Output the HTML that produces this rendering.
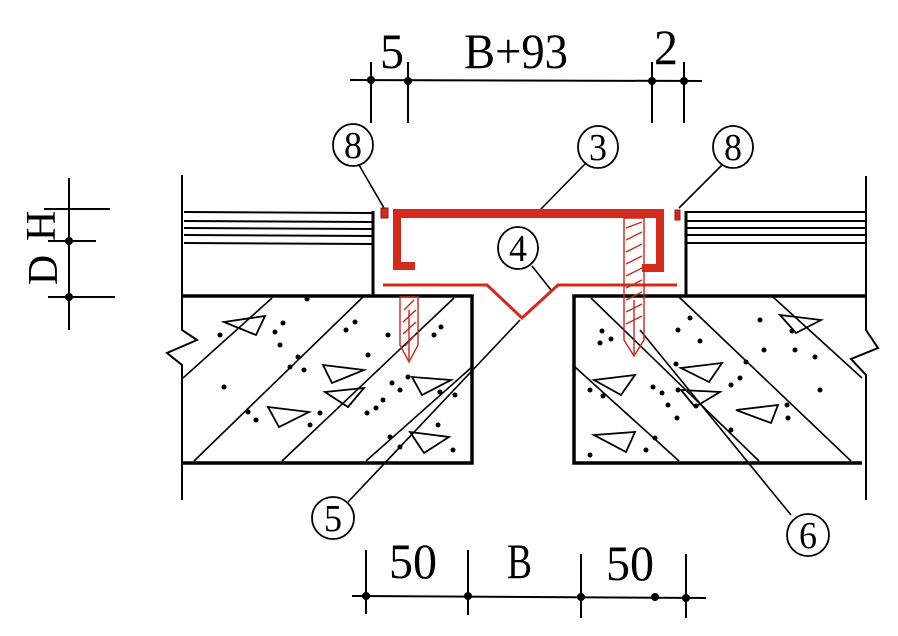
<!DOCTYPE html>
<html><head><meta charset="utf-8"><style>html,body{margin:0;padding:0;background:#fff}svg{display:block}</style></head>
<body>
<svg width="898" height="636" viewBox="0 0 898 636" xmlns="http://www.w3.org/2000/svg" font-family="Liberation Serif, serif">
<rect width="898" height="636" fill="#fff"/>
<g stroke="#000" stroke-width="2" fill="none">
<line x1="350" y1="80" x2="702" y2="81"/>
<line x1="371" y1="62" x2="371" y2="123"/>
<line x1="408" y1="62" x2="408" y2="123"/>
<line x1="652" y1="62" x2="652" y2="123"/>
<line x1="684" y1="62" x2="684" y2="123"/>
<line x1="69" y1="178" x2="69" y2="330"/>
<line x1="44" y1="209" x2="110" y2="209"/>
<line x1="48" y1="241" x2="96" y2="241"/>
<line x1="48" y1="297" x2="115" y2="297"/>
<line x1="352" y1="596" x2="706" y2="598"/>
<line x1="366" y1="550" x2="366" y2="614"/>
<line x1="468" y1="550" x2="468" y2="615"/>
<line x1="581" y1="554" x2="581" y2="618"/>
<line x1="686" y1="554" x2="686" y2="618"/>
<polyline points="182,175 182,330 197,340 167,353 182,365 182,500"/>
<polyline points="866,176 866,330 878,348 851,359 866,375 866,500"/>
<line x1="184" y1="212" x2="372" y2="213"/>
<line x1="184" y1="221" x2="372" y2="222"/>
<line x1="184" y1="228" x2="372" y2="229"/>
<line x1="184" y1="235" x2="372" y2="236"/>
<line x1="184" y1="243" x2="372" y2="244"/>
<line x1="686" y1="212" x2="866" y2="212"/>
<line x1="686" y1="221" x2="866" y2="221"/>
<line x1="686" y1="228" x2="866" y2="228"/>
<line x1="686" y1="235" x2="866" y2="235"/>
<line x1="686" y1="243" x2="866" y2="243"/>
<line x1="373" y1="211" x2="373" y2="296" stroke-width="3"/>
<line x1="686" y1="211" x2="686" y2="296" stroke-width="3"/>
<polyline points="182,296 472,296 472,463 182,463" stroke-width="3.5"/>
<polyline points="866,296 574,296 574,463 862,463" stroke-width="3.5"/>
<line x1="183" y1="378" x2="272" y2="298" stroke-width="1.6"/>
<line x1="194" y1="461" x2="364" y2="296" stroke-width="1.6"/>
<line x1="282" y1="461" x2="454" y2="298" stroke-width="1.6"/>
<line x1="366" y1="461" x2="472" y2="367" stroke-width="1.6"/>
<line x1="591" y1="298" x2="759" y2="461" stroke-width="1.6"/>
<line x1="679" y1="297" x2="851" y2="461" stroke-width="1.6"/>
<line x1="773" y1="297" x2="862" y2="378" stroke-width="1.6"/>
<line x1="575" y1="367" x2="679" y2="461" stroke-width="1.6"/>
<g stroke-width="1.8">
<polygon points="224,322 265,316 256,335"/>
<polygon points="323,365 364,370 332,383"/>
<polygon points="325,392 364,388 348,407"/>
<polygon points="268,407 309,412 279,427"/>
<polygon points="412,377 451,380 422,395"/>
<polygon points="410,432 449,437 424,453"/>
<polygon points="780,315 821,320 796,333"/>
<polygon points="681,368 722,363 709,382"/>
<polygon points="594,380 635,375 621,395"/>
<polygon points="681,390 720,392 695,407"/>
<polygon points="736,410 778,405 771,423"/>
<polygon points="594,435 635,432 626,452"/>
</g>
<line x1="359" y1="165" x2="384" y2="208" stroke-width="1.6"/>
<line x1="722" y1="165" x2="679" y2="208" stroke-width="1.6"/>
<line x1="585" y1="164" x2="540" y2="210" stroke-width="1.6"/>
<line x1="532" y1="266" x2="551" y2="290" stroke-width="1.6"/>
<line x1="348" y1="502" x2="520" y2="320" stroke-width="1.6"/>
<line x1="791" y1="515" x2="640" y2="330" stroke-width="1.6"/>
<ellipse cx="353" cy="145" rx="20" ry="21" stroke-width="1.8"/>
<ellipse cx="733" cy="147" rx="20" ry="21" stroke-width="1.8"/>
<ellipse cx="598" cy="147" rx="20" ry="21" stroke-width="1.8"/>
<ellipse cx="518" cy="248" rx="20" ry="21" stroke-width="1.8"/>
<ellipse cx="333" cy="518" rx="21" ry="21" stroke-width="1.8"/>
<ellipse cx="808" cy="535" rx="21" ry="21" stroke-width="1.8"/>
</g>
<g fill="#000">
<circle cx="371" cy="80" r="4"/><circle cx="408" cy="81" r="4"/><circle cx="652" cy="81" r="4"/><circle cx="684" cy="81" r="4"/>
<circle cx="69" cy="241" r="4"/><circle cx="69" cy="297" r="4"/>
<circle cx="366" cy="596" r="4"/><circle cx="468" cy="596" r="4"/><circle cx="581" cy="597" r="4"/><circle cx="655" cy="597" r="4"/><circle cx="686" cy="598" r="4"/>
<circle cx="220" cy="335" r="2.5"/><circle cx="283" cy="323" r="2.5"/><circle cx="275" cy="332" r="2.5"/><circle cx="280" cy="345" r="2.5"/><circle cx="307" cy="299" r="2.5"/>
<circle cx="355" cy="322" r="2.5"/><circle cx="346" cy="330" r="2.5"/><circle cx="298" cy="357" r="2.5"/><circle cx="290" cy="367" r="2.5"/><circle cx="304" cy="370" r="2.5"/>
<circle cx="224" cy="387" r="2.5"/><circle cx="368" cy="355" r="2.5"/><circle cx="388" cy="335" r="2.5"/><circle cx="441" cy="327" r="2.5"/><circle cx="434" cy="335" r="2.5"/>
<circle cx="392" cy="383" r="2.5"/><circle cx="408" cy="377" r="2.5"/><circle cx="400" cy="390" r="2.5"/><circle cx="440" cy="392" r="2.5"/><circle cx="455" cy="395" r="2.5"/>
<circle cx="383" cy="400" r="2.5"/><circle cx="376" cy="408" r="2.5"/><circle cx="367" cy="413" r="2.5"/><circle cx="248" cy="412" r="2.5"/><circle cx="256" cy="420" r="2.5"/><circle cx="320" cy="413" r="2.5"/><circle cx="310" cy="425" r="2.5"/>
<circle cx="390" cy="437" r="2.5"/><circle cx="400" cy="447" r="2.5"/><circle cx="453" cy="450" r="2.5"/><circle cx="438" cy="425" r="2.5"/>
<circle cx="602" cy="331" r="2.5"/><circle cx="611" cy="339" r="2.5"/><circle cx="600" cy="343" r="2.5"/><circle cx="690" cy="318" r="2.5"/><circle cx="700" cy="341" r="2.5"/><circle cx="678" cy="330" r="2.5"/>
<circle cx="760" cy="320" r="2.5"/><circle cx="792" cy="331" r="2.5"/><circle cx="764" cy="350" r="2.5"/><circle cx="795" cy="350" r="2.5"/><circle cx="815" cy="357" r="2.5"/>
<circle cx="676" cy="364" r="2.5"/><circle cx="746" cy="362" r="2.5"/><circle cx="740" cy="378" r="2.5"/><circle cx="731" cy="385" r="2.5"/><circle cx="820" cy="390" r="2.5"/>
<circle cx="590" cy="390" r="2.5"/><circle cx="603" cy="396" r="2.5"/><circle cx="653" cy="387" r="2.5"/><circle cx="662" cy="393" r="2.5"/><circle cx="678" cy="390" r="2.5"/><circle cx="668" cy="405" r="2.5"/>
<circle cx="696" cy="406" r="2.5"/><circle cx="677" cy="418" r="2.5"/><circle cx="788" cy="418" r="2.5"/><circle cx="787" cy="405" r="2.5"/><circle cx="731" cy="430" r="2.5"/>
<circle cx="655" cy="438" r="2.5"/><circle cx="646" cy="450" r="2.5"/><circle cx="590" cy="455" r="2.5"/>
</g>
<g fill="#d42a1c" stroke="none">
<path d="M393,209 H664 V272 H642 V264 H656 V218 H401 V262 H415 V270 H393 Z"/>
<rect x="381" y="208" width="7" height="10" stroke="#8a1b12" stroke-width="1"/>
<rect x="675" y="210" width="5" height="10" stroke="#8a1b12" stroke-width="1"/>
</g>
<polyline points="383,285 487,285 522,318 558,285 677,285" fill="none" stroke="#d42a1c" stroke-width="3"/>
<g fill="none" stroke="#c8281c" stroke-width="1.4">
<path d="M400,297 L418,297 L418,345 L409,362 L400,345 Z"/>
<line x1="404" y1="310" x2="414" y2="300"/><line x1="403" y1="322" x2="416" y2="310"/><line x1="403" y1="334" x2="416" y2="322"/><line x1="405" y1="346" x2="415" y2="335"/><line x1="409" y1="310" x2="409" y2="360"/>
<path d="M624,218 L644,218 L644,340 L634,356 L624,340 Z"/>
<line x1="626" y1="228" x2="642" y2="222"/><line x1="626" y1="240" x2="642" y2="232"/><line x1="626" y1="252" x2="642" y2="244"/><line x1="626" y1="264" x2="642" y2="256"/><line x1="626" y1="276" x2="642" y2="268"/><line x1="626" y1="288" x2="642" y2="280"/><line x1="626" y1="300" x2="642" y2="292"/><line x1="626" y1="312" x2="642" y2="304"/><line x1="626" y1="324" x2="642" y2="316"/><line x1="634" y1="300" x2="634" y2="354"/>
</g>
<g fill="#000" font-size="50">
<text x="392" y="68" text-anchor="middle" textLength="24" lengthAdjust="spacingAndGlyphs">5</text>
<text x="464" y="68" textLength="104" lengthAdjust="spacingAndGlyphs">B+93</text>
<text x="666" y="64" text-anchor="middle" textLength="24" lengthAdjust="spacingAndGlyphs">2</text>
<text x="389" y="578" textLength="48" lengthAdjust="spacingAndGlyphs">50</text>
<text x="507" y="578" textLength="25" lengthAdjust="spacingAndGlyphs">B</text>
<text x="606" y="580" textLength="48" lengthAdjust="spacingAndGlyphs">50</text>
<text transform="translate(55,226) rotate(-90)" text-anchor="middle" font-size="42">H</text>
<text transform="translate(57,270) rotate(-90)" text-anchor="middle" font-size="42">D</text>
</g>
<g fill="#000" font-size="38" text-anchor="middle">
<text x="353" y="158" textLength="18" lengthAdjust="spacingAndGlyphs">8</text>
<text x="733" y="160" textLength="18" lengthAdjust="spacingAndGlyphs">8</text>
<text x="598" y="160" textLength="18" lengthAdjust="spacingAndGlyphs">3</text>
<text x="518" y="261" textLength="18" lengthAdjust="spacingAndGlyphs">4</text>
<text x="333" y="531" textLength="18" lengthAdjust="spacingAndGlyphs">5</text>
<text x="808" y="548" textLength="18" lengthAdjust="spacingAndGlyphs">6</text>
</g>
</svg>
</body></html>
